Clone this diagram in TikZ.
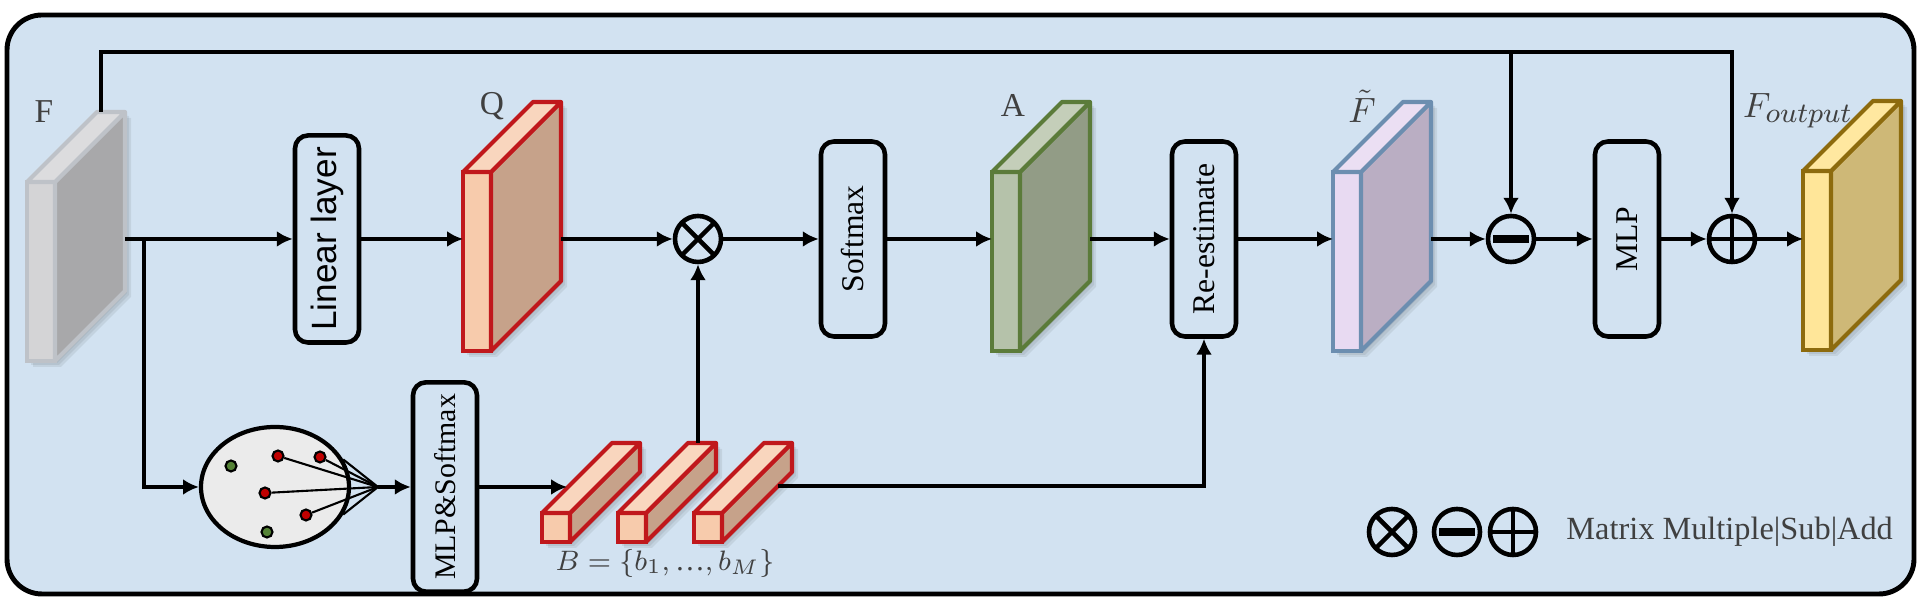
\documentclass[tikz,border=0pt]{standalone}
\usepackage{fontspec}
\setmainfont{Liberation Serif}
\setsansfont{Liberation Sans}
\usetikzlibrary{arrows.meta,shapes.geometric}

\definecolor{bgblue}{RGB}{210,226,241}
\definecolor{textgray}{HTML}{404040}
\definecolor{cloudgray}{HTML}{EBEBEB}
\definecolor{dotred}{HTML}{C00000}
\definecolor{dotgreen}{HTML}{548235}
% faces of the feature maps
\definecolor{frontF}{HTML}{D4D4D6}\definecolor{sideF}{HTML}{A8A8AA}\definecolor{topF}{HTML}{DCDCDE}\definecolor{edgeF}{HTML}{BEC2C8}
\definecolor{frontQ}{HTML}{F7CBAC}\definecolor{sideQ}{HTML}{C6A28A}\definecolor{topQ}{HTML}{F9D6BE}\definecolor{edgeQ}{HTML}{C0181C}
\definecolor{frontA}{HTML}{B5C2AA}\definecolor{sideA}{HTML}{929C86}\definecolor{topA}{HTML}{C4CEB9}\definecolor{edgeA}{HTML}{5B7B3A}
\definecolor{frontFt}{HTML}{E8DAF2}\definecolor{sideFt}{HTML}{BAAEC3}\definecolor{topFt}{HTML}{EBDFF3}\definecolor{edgeFt}{HTML}{6C8EB0}
\definecolor{frontFo}{HTML}{FFE699}\definecolor{sideFo}{HTML}{CEB877}\definecolor{topFo}{HTML}{FFE8A0}\definecolor{edgeFo}{HTML}{8D6B0E}

\begin{document}
\begin{tikzpicture}[x=0.1mm, y=-0.1mm, >={Latex[length=4.5pt,width=4.5pt]}, line width=1pt]
        \tikzset{%
        slab/.style={
            rectangle,
            line width=1.2pt,
            minimum width=2.8mm,
            minimum height=17.9mm,
            inner sep=0pt, outer sep=0pt},
        bar/.style={
            slab,
            minimum height=2.9mm},
        slab shadow/.style={
            fill=black,
            opacity=0.07},
        opbox/.style={
            rectangle,
            draw,
            rounded corners=1.3mm,
            line width=1.3pt,
            minimum width=19.5mm,
            minimum height=6.4mm,
            rotate=90,
            font=\fontsize{9}{10}\selectfont},
        op/.style={
            circle,
            draw,
            line width=1.3pt,
            minimum size=4.6mm,
            inner sep=0pt},
        opmul/.style={op, path picture={
            \draw[line width=1.3pt] (path picture bounding box.north west) -- (path picture bounding box.south east)
                (path picture bounding box.south west) -- (path picture bounding box.north east);}},
        opsub/.style={op, path picture={
            \draw[line width=2.2pt] ([xshift=0.5mm]path picture bounding box.west) -- ([xshift=-0.5mm]path picture bounding box.east);}},
        opadd/.style={op, path picture={
            \draw[line width=1.3pt] (path picture bounding box.north) -- (path picture bounding box.south)
                (path picture bounding box.west) -- (path picture bounding box.east);}},
        map label/.style={
            text=textgray,
            font=\fontsize{9.5}{11}\selectfont},
        dot/.style={
            circle,
            draw,
            line width=0.6pt,
            minimum size=1.1mm,
            inner sep=0pt},
        }

        \useasboundingbox (0,0) rectangle (1920,607);
        \draw[line width=1.4pt, fill=bgblue, rounded corners=3.5mm] (7,15) rectangle (1914,594);

        \coordinate (top) at (0,52);

        % feature maps
        \foreach \n/\x/\y in {F/27/182, Q/463/172, A/992/172, Ft/1333/172, Fo/1803/171}
        {
            \foreach \s in {2,4,6}
                \fill [slab shadow] (\x+\s,\y+\s) -- (\x+70+\s,\y-70+\s) -- (\x+98+\s,\y-70+\s)
                    -- (\x+98+\s,\y+109+\s) -- (\x+28+\s,\y+179+\s) -- (\x+\s,\y+179+\s) -- cycle;
            \node [slab, fill=front\n, draw=edge\n] (\n) at (\x+14,\y+89.5) {};
            \filldraw [fill=side\n, draw=edge\n, line width=1.2pt, line join=round]
                (\n.north east) -- ++(7mm,7mm) -- ++(0,-17.9mm) -- (\n.south east) -- cycle;
            \filldraw [fill=top\n, draw=edge\n, line width=1.2pt, line join=round]
                (\n.north west) -- ++(7mm,7mm) -- ++(2.8mm,0) -- (\n.north east) -- cycle;
            \coordinate (\n-b) at ([xshift=7mm]\n.east);
        }
        \node [map label] (F-lab) at (44,112) {F};
        \node [map label] (Q-lab) at (492,106) {Q};
        \node [map label] (A-lab) at (1013,105) {A};
        \node [map label, font=\fontsize{10}{12}\selectfont] (Ft-lab) at (1362,106) {$\tilde{F}$};
        \node [map label, font=\fontsize{10}{12}\selectfont] (Fo-lab) at (1798,111)
            {$F_{\mbox{\fontsize{8}{9}\selectfont$output$}}$};

        % main row
        \node [opbox, font=\sffamily\fontsize{10}{12}\selectfont] (lin) at (327,239) {Linear layer};
        \node [opmul] (mul) at (698,239) {};
        \node [opbox] (soft) at (853,239) {Softmax};
        \node [opbox] (re) at (1204,239) {Re-estimate};
        \node [opsub] (sub) at (1511,239) {};
        \node [opbox] (mlp) at (1627,239) {MLP};
        \node [opadd] (add) at (1732,239) {};

        % lower row
        \node [ellipse, draw, fill=cloudgray, line width=1.2pt, minimum width=14.8mm, minimum height=12mm] (pts) at (275,487) {};
        \coordinate (fan) at (378,487);
        \foreach \d/\p/\c in {g1/{231,466}/dotgreen, r1/{278,456}/dotred, r2/{320,457}/dotred,
                              r3/{265,493}/dotred, r4/{306,515}/dotred, g2/{267,532}/dotgreen}
            \node [dot, fill=\c] (\d) at (\p) {};
        \foreach \d in {r1,r2,r3,r4,pts.22,pts.-22}
            \draw [line width=0.6pt] (\d) -- (fan);
        \node [opbox, font=\fontsize{8.5}{10}\selectfont] (mlps) at (445,487) {MLP\&Softmax};

        \foreach \i/\x in {1/542, 2/618, 3/694}
        {
            \foreach \s in {2,4,6}
                \fill [slab shadow] (\x+\s,513+\s) -- (\x+70+\s,443+\s) -- (\x+98+\s,443+\s)
                    -- (\x+98+\s,472+\s) -- (\x+28+\s,542+\s) -- (\x+\s,542+\s) -- cycle;
            \node [bar, fill=frontQ, draw=edgeQ] (b\i) at (\x+14,527.5) {};
            \filldraw [fill=sideQ, draw=edgeQ, line width=1.2pt, line join=round]
                (b\i.north east) -- ++(7mm,7mm) -- ++(0,-2.9mm) -- (b\i.south east) -- cycle;
            \filldraw [fill=topQ, draw=edgeQ, line width=1.2pt, line join=round]
                (b\i.north west) -- ++(7mm,7mm) -- ++(2.8mm,0) -- (b\i.north east) -- cycle;
        }
        \coordinate (b1-in) at ([xshift=2.5mm,yshift=2.5mm]b1.north west);
        \coordinate (b2-t) at ([xshift=7mm,yshift=7mm]b2.north west);
        \coordinate (b3-o) at ([xshift=5.6mm,yshift=5.6mm]b3.south east);
        \node [map label, font=\fontsize{8.5}{10}\selectfont] (B-lab) at (665,563)
            {$B=\{b_1,\mbox{\textellipsis},b_M\}$};

        % legend
        \node [opmul] (lg-mul) at (1392,532) {};
        \node [opsub] (lg-sub) at (1457,532) {};
        \node [opadd] (lg-add) at (1513,532) {};
        \node [map label, anchor=west, font=\fontsize{9.2}{11}\selectfont] (lg-text) at (1553,532) {Matrix Multiple|Sub|Add};

        % connectors
        \coordinate (split) at (144,239);
        \coordinate (F-t) at ([xshift=7.4mm,yshift=7mm]F.north west);
        \draw [->] (F-b |- lin) -- (lin);
        \draw [->] (split) |- (pts);
        \draw [->] (lin) -- (lin -| Q.west);
        \draw [->] (Q-b |- mul) -- (mul);
        \draw [->] (mul) -- (soft);
        \draw [->] (soft) -- (soft -| A.west);
        \draw [->] (A-b |- re) -- (re);
        \draw [->] (re) -- (re -| Ft.west);
        \draw [->] (Ft-b |- sub) -- (sub);
        \draw [->] (sub) -- (mlp);
        \draw [->] (mlp) -- (add);
        \draw [->] (add) -- (add -| Fo.west);
        \draw [->] (F-t) |- (top -| add) -- (add);
        \draw [->] (top -| sub) -- (sub);
        \draw [->] (fan) -- (mlps);
        \draw [->] (mlps) -- (mlps -| b1-in);
        \draw [->] (b2-t -| mul) -- (mul);
        \draw [->] (b3-o) -| (re);
\end{tikzpicture}
\end{document}
